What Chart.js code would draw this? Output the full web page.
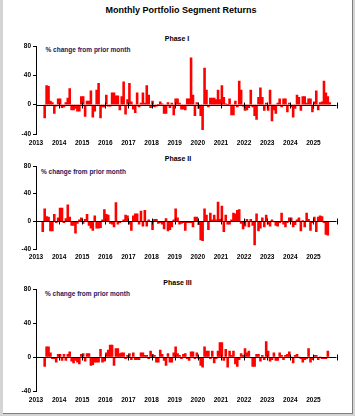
<!DOCTYPE html>
<html><head><meta charset="utf-8">
<script src="https://cdn.jsdelivr.net/npm/chart.js@4/dist/chart.umd.min.js"></script>
<style>
html,body{margin:0;padding:0;width:355px;height:416px;background:#d4d4d4;overflow:hidden;font-family:'Liberation Sans',Arial,sans-serif;}
#frame{position:absolute;left:3px;top:0;width:349px;height:413px;background:#fff;border-right:1px solid #7f7f7f;border-bottom:1px solid #7f7f7f;}
.t{position:absolute;font-weight:bold;white-space:nowrap;color:#000;}
.n{position:absolute;font-weight:bold;white-space:nowrap;color:#202060;font-size:6.5px;line-height:8px;}
.box{position:absolute;left:0;width:355px;}
canvas{display:block;}
</style></head><body>
<div id="frame"></div>
<div class="t" style="left:0;width:362px;text-align:center;top:5px;font-size:9px;line-height:10px;">Monthly Portfolio Segment Returns</div>
<div class="t" style="left:0;width:354px;text-align:center;top:35px;font-size:7px;line-height:8px;">Phase I</div>
<div class="t" style="left:0;width:356px;text-align:center;top:155px;font-size:7px;line-height:8px;">Phase II</div>
<div class="t" style="left:0;width:355px;text-align:center;top:279px;font-size:7px;line-height:8px;">Phase III</div>
<div class="n" style="left:45.5px;top:46px;">% change from prior month</div>
<div class="n" style="left:41px;top:168px;">% change from prior month</div>
<div class="n" style="left:45px;top:290px;">% change from prior month</div>
<div class="box" style="top:40px;height:112px;"><canvas id="c1" width="355" height="112"></canvas></div>
<div class="box" style="top:160px;height:107px;"><canvas id="c2" width="355" height="107"></canvas></div>
<div class="box" style="top:283px;height:126px;"><canvas id="c3" width="355" height="126"></canvas></div>
<script>
// Monthly series, index 0 = Jan 2013 ... index 155 = Dec 2025
const startYear = 2013;
const yearLabels = ['2013','2014','2015','2016','2017','2018','2019','2020','2021','2022','2023','2024','2025'];
const yTicks = [-40, 0, 40, 80];

const phase1 = [null,null,null,null,-18,26,25,5,3,-12,
 -2,8,8,-4,-3,3,9,22,-7,-7,
 -5,-9,-9,11,11,-16,5,5,19,-17,
 -9,20,29,-18,-3,-3,13,-2,-2,16,
 16,12,12,-7,11,31,-13,7,29,4,
 -6,-11,16,-3,2,16,2,26,13,-4,
 5,-3,-2,0,4,1,-12,-12,3,-4,
 2,-14,8,8,2,-6,-6,-7,8,8,
 64,13,-15,3,-5,-15,-34,50,20,-3,
 9,9,9,7,20,7,26,10,1,0,
 8,-14,-14,5,-3,32,20,-2,-8,-7,
 -4,20,-3,-15,-20,10,23,10,-8,2,
 -8,20,-22,-7,-12,2,8,-3,8,8,
 -10,2,-3,-17,-5,13,10,-8,11,11,
 2,8,8,-10,4,19,-7,3,4,32,
 16,11,3,null,null,null];

const phase2 = [null,null,null,-15,18,7,6,-14,-14,10,
 -2,5,19,19,-2,4,24,6,-6,-6,
 -17,-3,2,5,-3,3,10,-6,-10,-13,
 8,-10,-10,-9,2,17,10,9,-3,-4,
 -8,27,-4,-2,0,2,9,8,-4,-13,
 8,11,11,-4,15,-7,16,-7,2,0,
 -12,3,3,-3,-2,-4,-11,4,-14,-12,
 -8,2,18,5,-4,-3,-2,-13,-2,-2,
 -2,-8,6,6,-5,-27,-28,18,9,-12,
 12,2,9,2,28,3,22,-15,9,-4,
 -4,2,12,11,16,17,-3,-11,-7,3,
 -8,3,-6,-34,11,-14,-10,5,-8,9,
 -4,-7,2,-1,-6,-7,-2,12,-4,-8,
 -2,5,5,-8,-5,2,5,-14,1,-8,
 12,3,-13,-2,6,-15,6,8,7,-2,
 -19,-20,null,null,null,null];

const phase3 = [null,null,null,null,-11,12,12,5,-2,-2,
 -6,3,3,-4,3,-4,3,6,-5,-7,
 -4,-6,-8,3,4,-5,4,4,-10,-9,
 -6,-6,-6,9,-6,-5,5,8,14,14,
 -10,10,10,4,5,5,-2,2,4,-3,
 5,-3,-3,-3,5,5,2,2,-2,7,
 3,2,-6,-6,8,3,-4,-10,4,-6,
 -6,5,12,4,2,-2,3,4,-2,-4,
 6,6,-2,5,-2,-10,-12,12,7,7,
 -2,7,-7,-2,7,17,17,-4,9,-12,
 7,2,7,-8,-11,-3,4,2,10,5,
 7,-1,-11,-11,3,3,-5,2,-3,18,
 7,-5,-3,5,-4,-4,5,2,-3,2,
 3,6,0,-7,2,3,0,-2,-6,-3,
 -2,10,-6,-3,2,2,-3,0,-2,-2,
 -2,7,null,null,null,null];

const FONT = "'Liberation Sans', Arial, sans-serif";

const zeroAxis = {
  id: 'zeroAxis',
  afterDatasetsDraw(chart) {
    const {ctx, chartArea, scales} = chart;
    const x = scales.x, y = scales.y;
    const y0 = Math.round(y.getPixelForValue(0)) + 0.5;
    ctx.save();
    ctx.strokeStyle = '#000';
    ctx.lineWidth = 1;
    ctx.beginPath();
    ctx.moveTo(chartArea.left, y0);
    ctx.lineTo(chartArea.right, y0);
    x.ticks.forEach(t => {
      const px = Math.round(x.getPixelForValue(t.value)) + 0.5;
      ctx.moveTo(px, y0 - 3);
      ctx.lineTo(px, y0 + 3);
    });
    ctx.stroke();
    ctx.restore();
  }
};

function makeChart(id, series, xAxisHeight, labelPad) {
  const pts = [];
  series.forEach((v, i) => { if (v !== null) pts.push({x: startYear + (i + 0.5) / 12, y: v}); });
  return new Chart(document.getElementById(id), {
    type: 'bar',
    data: { datasets: [{ data: pts, backgroundColor: '#ff0000', borderWidth: 0,
      barPercentage: 1, categoryPercentage: 1 }] },
    options: {
      responsive: false, animation: false,
      layout: { padding: { top: 6, right: 18.5, left: 0, bottom: 0 } },
      plugins: { legend: { display: false }, tooltip: { enabled: false }, title: { display: false } },
      scales: {
        x: {
          type: 'linear', position: 'bottom', min: startYear, max: startYear + yearLabels.length,
          offset: false,
          grid: { display: false, drawTicks: false, offset: false },
          border: { display: false },
          ticks: { stepSize: 1, autoSkip: false, maxRotation: 0, padding: labelPad,
            color: '#000', font: { family: FONT, size: 6.5, weight: 'bold' },
            callback: v => yearLabels[Math.round(v) - startYear] ?? '' },
          afterFit: s => { s.height = xAxisHeight; }
        },
        y: {
          min: yTicks[0], max: yTicks[yTicks.length - 1],
          afterBuildTicks: s => { s.ticks = yTicks.map(v => ({value: v})); },
          grid: { display: true, drawOnChartArea: false, drawTicks: true, tickLength: 3, tickColor: '#000', color: '#000' },
          border: { display: true, color: '#000', width: 1 },
          ticks: { padding: 2, color: '#000', font: { family: FONT, size: 6.5, weight: 'bold' },
            callback: v => String(v) },
          afterFit: s => { s.width = 36; }
        }
      }
    },
    plugins: [zeroAxis]
  });
}

makeChart('c1', phase1, 18, 5);
makeChart('c2', phase2, 18, 4.5);
makeChart('c3', phase3, 18, 5.5);
</script>
</body></html>
